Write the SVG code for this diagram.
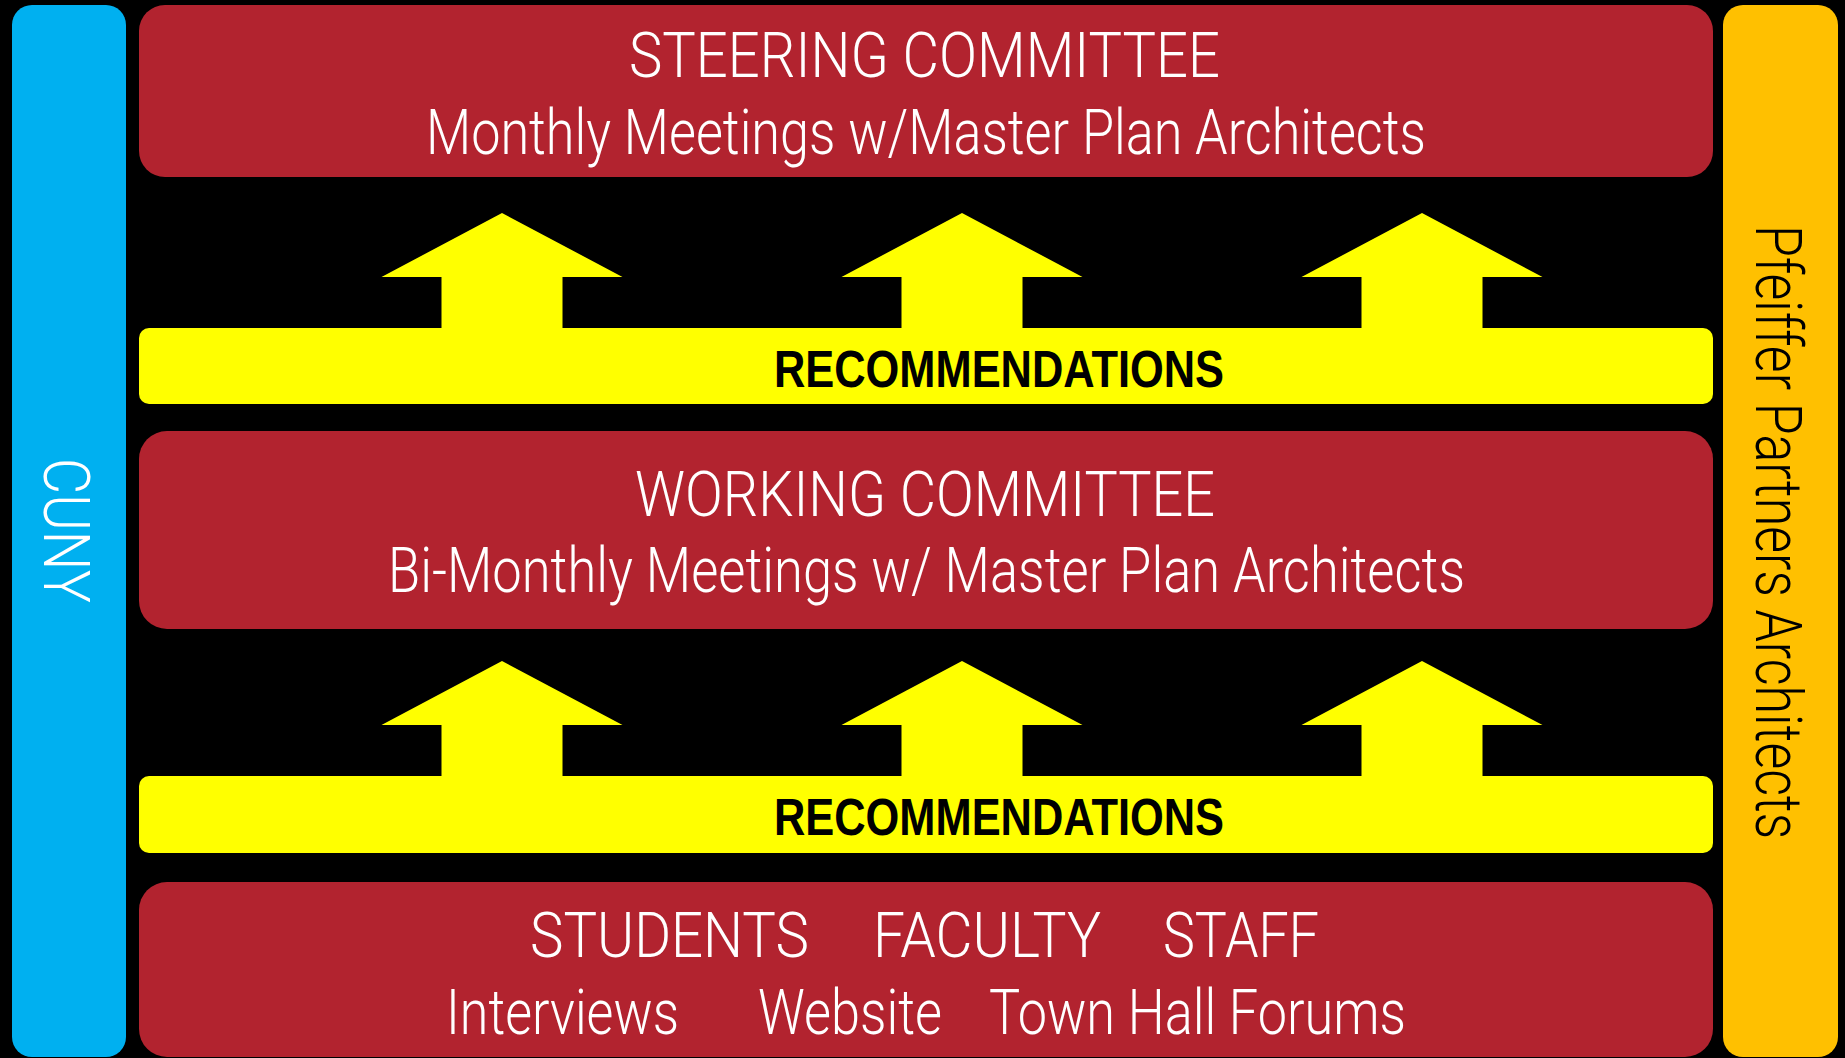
<svg xmlns="http://www.w3.org/2000/svg" width="1845" height="1058" viewBox="0 0 1845 1058">
<style>
.bg{fill:#000}
.red{fill:#B2232F}
.yel{fill:#FFFF00}
.t{font-family:Roboto,"Liberation Sans",Arial,sans-serif;font-weight:300;font-size:63px;fill:#fff}
.r{font-family:"Liberation Sans",Arial,sans-serif;font-size:52.6px;font-weight:bold;fill:#000}
.side{font-family:Roboto,"Liberation Sans",Arial,sans-serif;font-weight:300;font-size:64px}
</style>
<defs>
<path id="arrow" d="M0,0 L120.5,64 L60.5,64 L60.5,116 L-60.5,116 L-60.5,64 L-120.5,64 Z"/>
</defs>
<rect class="bg" x="0" y="0" width="1845" height="1058"/>
<g id="cuny">
<rect x="12" y="5" width="114" height="1052" rx="20" fill="#00B0F0"/>
<text class="side" fill="#fff" font-size="66" transform="translate(44,458) rotate(90)" textLength="145" lengthAdjust="spacingAndGlyphs">CUNY</text>
</g>
<g id="pfeiffer">
<rect x="1723" y="5" width="115" height="1052" rx="20" fill="#FFC000"/>
<text class="side" fill="#000" transform="translate(1756,225) rotate(90)" textLength="614" lengthAdjust="spacingAndGlyphs">Pfeiffer Partners Architects</text>
</g>
<g id="steering">
<rect class="red" x="139" y="5" width="1574" height="172" rx="26"/>
<text class="t" x="629" y="76.7" textLength="591" lengthAdjust="spacingAndGlyphs">STEERING COMMITTEE</text>
<text class="t" x="426" y="154" textLength="1000" lengthAdjust="spacingAndGlyphs">Monthly Meetings w/Master Plan Architects</text>
</g>
<g id="connectors">
<use href="#arrow" class="yel" x="502" y="213"/>
<use href="#arrow" class="yel" x="962" y="213"/>
<use href="#arrow" class="yel" x="1422" y="213"/>
<use href="#arrow" class="yel" x="502" y="661"/>
<use href="#arrow" class="yel" x="962" y="661"/>
<use href="#arrow" class="yel" x="1422" y="661"/>
</g>
<g id="recommendations1">
<rect class="yel" x="139" y="328" width="1574" height="76" rx="10"/>
<text class="r" x="774" y="386.7" textLength="450" lengthAdjust="spacingAndGlyphs">RECOMMENDATIONS</text>
</g>
<g id="working">
<rect class="red" x="139" y="431" width="1574" height="198" rx="28"/>
<text class="t" x="635" y="516" textLength="580" lengthAdjust="spacingAndGlyphs">WORKING COMMITTEE</text>
<text class="t" x="388" y="592.3" textLength="1077" lengthAdjust="spacingAndGlyphs">Bi-Monthly Meetings w/ Master Plan Architects</text>
</g>
<g id="recommendations2">
<rect class="yel" x="139" y="776" width="1574" height="77" rx="10"/>
<text class="r" x="774" y="834.7" textLength="450" lengthAdjust="spacingAndGlyphs">RECOMMENDATIONS</text>
</g>
<g id="stakeholders">
<rect class="red" x="139" y="882" width="1574" height="175" rx="28"/>
<text class="t" x="530" y="957.3" textLength="279" lengthAdjust="spacingAndGlyphs">STUDENTS</text>
<text class="t" x="873" y="957.3" textLength="228" lengthAdjust="spacingAndGlyphs">FACULTY</text>
<text class="t" x="1163" y="957.3" textLength="156" lengthAdjust="spacingAndGlyphs">STAFF</text>
<text class="t" x="446" y="1034" textLength="233" lengthAdjust="spacingAndGlyphs">Interviews</text>
<text class="t" x="758" y="1034" textLength="184" lengthAdjust="spacingAndGlyphs">Website</text>
<text class="t" x="989" y="1034" textLength="417" lengthAdjust="spacingAndGlyphs">Town Hall Forums</text>
</g>
</svg>
